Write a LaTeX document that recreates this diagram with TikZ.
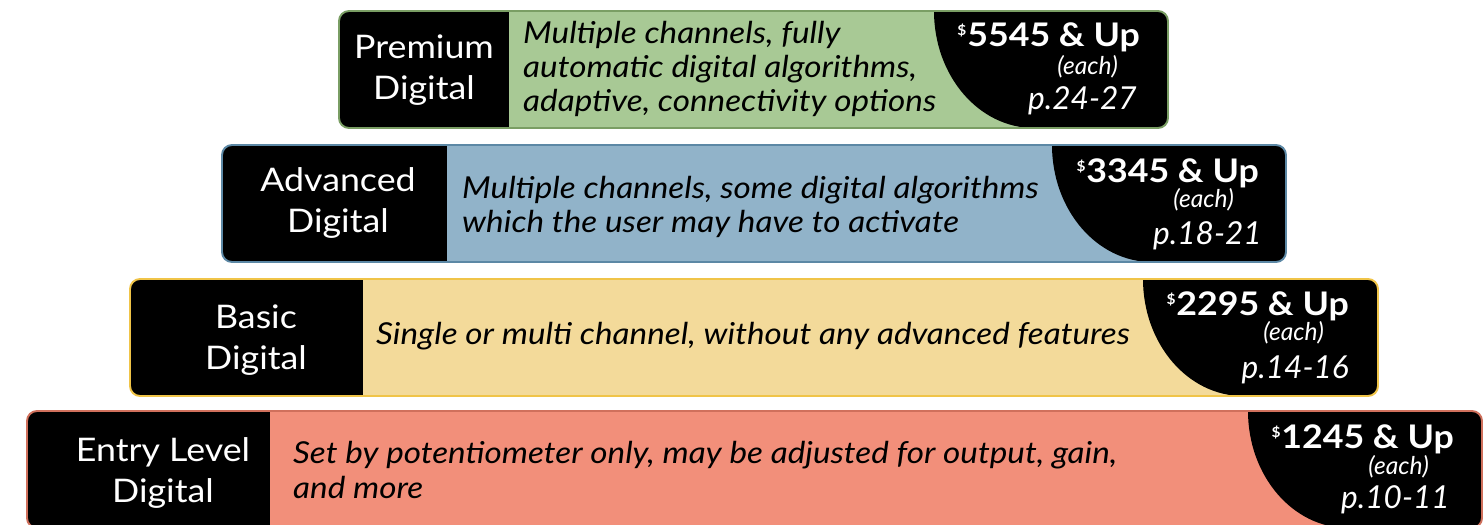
\documentclass[tikz,border=0pt]{standalone}
\usepackage{fontspec}
\usepackage{tikz}
\setmainfont{Lato}
\newfontfamily\widefont[FakeStretch=1.1]{Lato}
\usetikzlibrary{positioning}
\definecolor{premium}{RGB}{168,201,149}
\definecolor{advanced}{RGB}{145,179,201}
\definecolor{basic}{RGB}{243,218,154}
\definecolor{entry}{RGB}{242,143,122}
\definecolor{premiumline}{RGB}{122,158,100}
\definecolor{advancedline}{RGB}{92,136,165}
\definecolor{basicline}{RGB}{240,196,72}
\definecolor{entryline}{RGB}{208,112,92}

% one price band: left, top, right, end of name box, start of price curve, colour
\newcommand{\pricingband}[6]{%
  \begin{scope}
    \clip[rounded corners=0.2cm] (#1,#2) rectangle (#3,#2+117);
    \fill[#6] (#1,#2) rectangle (#3,#2+117);
    \fill[black] (#1,#2) rectangle (#4,#2+117);
    \fill[black] (#5,#2) -- (#3,#2) -- (#3,#2+117) -- (#5+100,#2+117)
      .. controls (#5+45,#2+117) and (#5,#2+65) .. (#5,#2);
  \end{scope}
  \draw[rounded corners=0.2cm, #6line, line width=1.1pt] (#1,#2) rectangle (#3,#2+117);
}

\begin{document}
\begin{tikzpicture}[
    x=0.02cm, y=-0.02cm,
    tiername/.style={text=white, align=center, font=\fontsize{18.5}{23.5}\selectfont\widefont},
    tierdesc/.style={anchor=west, align=left, font=\fontsize{17.2}{19.5}\selectfont\widefont\itshape},
    price/.style={anchor=east, text=white, font=\fontsize{18.5}{20}\selectfont\widefont\bfseries},
    each/.style={anchor=east, text=white, font=\fontsize{14}{15}\selectfont\itshape},
    pages/.style={anchor=east, text=white, font=\fontsize{18}{19}\selectfont\itshape}
]
    \useasboundingbox (0,0) rectangle (1484,524);

    \pricingband{339}{11}{1168}{509}{934}{premium}
    \pricingband{222}{145}{1286}{447}{1052}{advanced}
    \pricingband{130}{279}{1378}{363}{1143}{basic}
    \pricingband{27}{411}{1482}{270}{1248}{entry}

    % premium
    \node[tiername] (premium-name) at (424,70) {Premium\\Digital};
    \node[tierdesc] (premium-desc) at (517,69) {Multiple channels, fully\\automatic digital algorithms,\\adaptive, connectivity options};
    \node[price] (premium-price) at (1146,37) {\textsuperscript{\footnotesize\$}5545 \& Up};
    \node[each] (premium-each) at (1124,67) {(each)};
    \node[pages] (premium-pages) at (1143,101) {p.24-27};

    % advanced
    \node[tiername] (advanced-name) at (338,203) {Advanced\\Digital};
    \node[tierdesc] (advanced-desc) at (456,207) {Multiple channels, some digital algorithms\\which the user may have to activate};
    \node[price] (advanced-price) at (1265,173) {\textsuperscript{\footnotesize\$}3345 \& Up};
    \node[each] (advanced-each) at (1240,200) {(each)};
    \node[pages] (advanced-pages) at (1268,236) {p.18-21};

    % basic
    \node[tiername] (basic-name) at (256,340) {Basic\\Digital};
    \node[tierdesc] (basic-desc) at (370,336) {Single or multi channel, without any advanced features};
    \node[price] (basic-price) at (1355,306) {\textsuperscript{\footnotesize\$}2295 \& Up};
    \node[each] (basic-each) at (1330,333) {(each)};
    \node[pages] (basic-pages) at (1355,370) {p.14-16};

    % entry level
    \node[tiername] (entry-name) at (163,473) {Entry Level\\Digital};
    \node[tierdesc] (entry-desc) at (287,470) {Set by potentiometer only, may be adjusted for output, gain,\\and more};
    \node[price] (entry-price) at (1460,439) {\textsuperscript{\footnotesize\$}1245 \& Up};
    \node[each] (entry-each) at (1435,467) {(each)};
    \node[pages] (entry-pages) at (1456,500) {p.10-11};
\end{tikzpicture}
\end{document}
